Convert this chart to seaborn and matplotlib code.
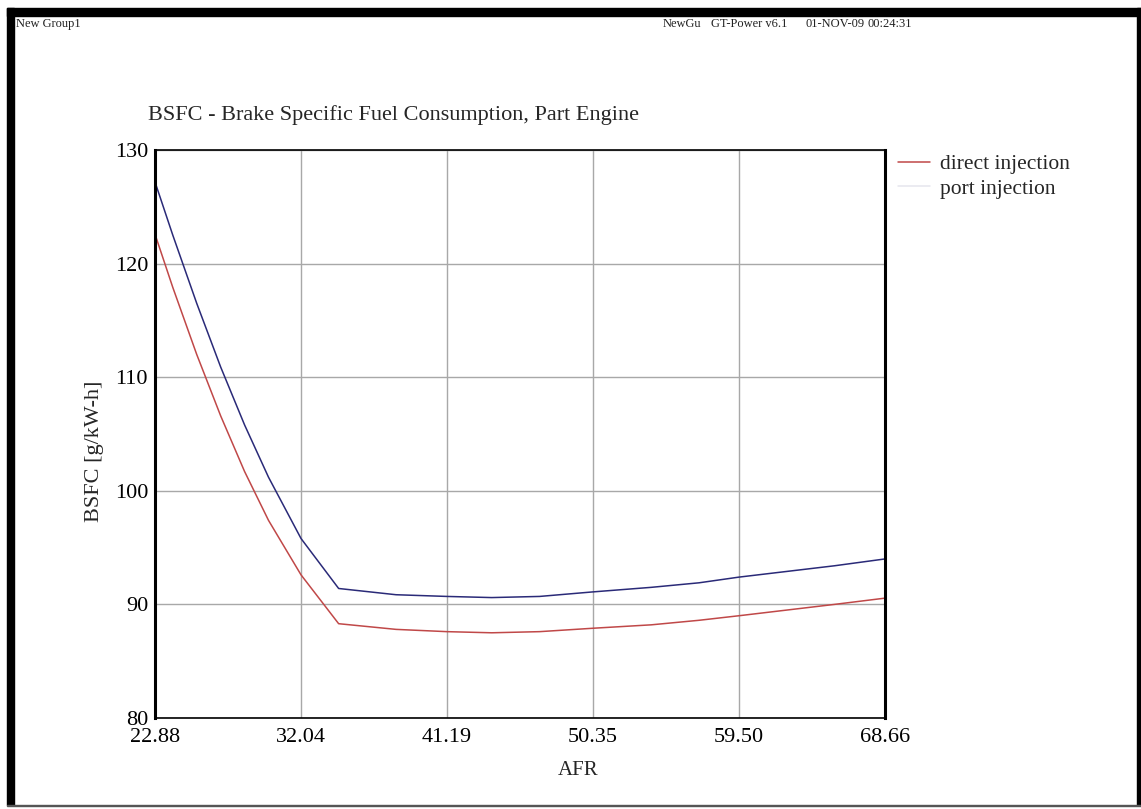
import pandas as pd
import numpy as np
import matplotlib.pyplot as plt
import seaborn as sns
from matplotlib.patches import Rectangle

# data
afr = [22.88, 24.0, 25.5, 27.0, 28.5, 30.0, 32.04, 34.4, 38.0, 41.19,
       44.0, 47.0, 50.35, 54.0, 57.0, 59.50, 62.5, 65.5, 68.66]
bsfc_direct = [122.6, 117.9, 112.0, 106.6, 101.7, 97.4, 92.6, 88.3, 87.8, 87.6,
               87.5, 87.6, 87.9, 88.2, 88.6, 89.0, 89.5, 90.0, 90.55]
bsfc_port = [127.2, 122.5, 116.5, 110.9, 105.8, 101.2, 95.8, 91.4, 90.85, 90.7,
             90.6, 90.7, 91.1, 91.5, 91.9, 92.4, 92.9, 93.4, 94.0]
x_ticks = [22.88, 32.04, 41.19, 50.35, 59.50, 68.66]
y_ticks = [80, 90, 100, 110, 120, 130]
series_names = ['direct injection', 'port injection']

df = pd.DataFrame({
    'AFR': afr * 2,
    'BSFC': bsfc_direct + bsfc_port,
    'case': [series_names[0]] * len(afr) + [series_names[1]] * len(afr),
})

sns.set_style('white')
plt.rcParams['font.family'] = ['Liberation Serif', 'DejaVu Serif']

fig = plt.figure(figsize=(11.41, 8.09), dpi=100)
ax = fig.add_axes([0.1358, 0.1125, 0.6398, 0.7021])

sns.lineplot(data=df, x='AFR', y='BSFC', hue='case',
             palette={'direct injection': '#c04848', 'port injection': '#2a2a78'},
             linewidth=1.1, ax=ax, sort=False)

ax.set_xlim(x_ticks[0], x_ticks[-1])
ax.set_ylim(y_ticks[0], y_ticks[-1])
ax.set_xticks(x_ticks)
ax.set_xticklabels([f'{v:.2f}' for v in x_ticks])
ax.set_yticks(y_ticks)
ax.tick_params(axis='both', length=0, labelsize=16, colors='black')
ax.tick_params(axis='x', pad=7)
ax.tick_params(axis='y', pad=5)
ax.grid(True, color='#a8a8a8', linewidth=1.0)
ax.set_axisbelow(True)
for side in ['left', 'right']:
    ax.spines[side].set_linewidth(2.2)
    ax.spines[side].set_color('black')
for side in ['top', 'bottom']:
    ax.spines[side].set_linewidth(1.2)
    ax.spines[side].set_color('black')

ax.set_xlabel('AFR', fontsize=15)
ax.xaxis.set_label_coords(0.58, -0.075)
ax.set_ylabel('BSFC [g/kW-h]', fontsize=16)
ax.yaxis.set_label_coords(-0.07, 0.47)

# title placed left like the reference
fig.text(148 / 1141, 1 - 115 / 809, 'BSFC - Brake Specific Fuel Consumption, Part Engine',
         fontsize=16, ha='left', va='center')

# legend outside the axes on the right
leg = ax.legend(loc='upper left', bbox_to_anchor=(1.0, 1.015), frameon=False,
                fontsize=15.5, handlelength=1.5, handletextpad=0.45,
                labelspacing=0.2, borderaxespad=0.2)
leg.legend_handles[1].set_color('#e6e6ee')

# header line
head_y = 1 - 24 / 809
fig.text(16 / 1141, head_y, 'New Group1', fontsize=9, ha='left', va='center', color='#222222')
fig.text(663 / 1141, head_y, 'NewGu', fontsize=9, ha='left', va='center', color='#222222')
fig.text(711 / 1141, head_y, 'GT-Power v6.1', fontsize=9, ha='left', va='center', color='#222222')
fig.text(805 / 1141, head_y, '01-NOV-09', fontsize=9, ha='left', va='center', color='#222222')
fig.text(868 / 1141, head_y, '00:24:31', fontsize=9, ha='left', va='center', color='#222222')

# black page frame from the scan
fig.patches.append(Rectangle((7 / 1141, 0.005), 7 / 1141, 1 - 8 / 809 - 0.005,
                             transform=fig.transFigure, color='black', zorder=0))
fig.patches.append(Rectangle((7 / 1141, 1 - 16 / 809), 1 - 7 / 1141, 8 / 809,
                             transform=fig.transFigure, color='black', zorder=0))
fig.patches.append(Rectangle((1 - 4 / 1141, 0.005), 4 / 1141, 1 - 8 / 809 - 0.005,
                             transform=fig.transFigure, color='black', zorder=0))
fig.patches.append(Rectangle((7 / 1141, 3 / 809), 1 - 7 / 1141, 1.5 / 809,
                             transform=fig.transFigure, color='#555555', zorder=0))

fig.savefig('out.png', dpi=100)
